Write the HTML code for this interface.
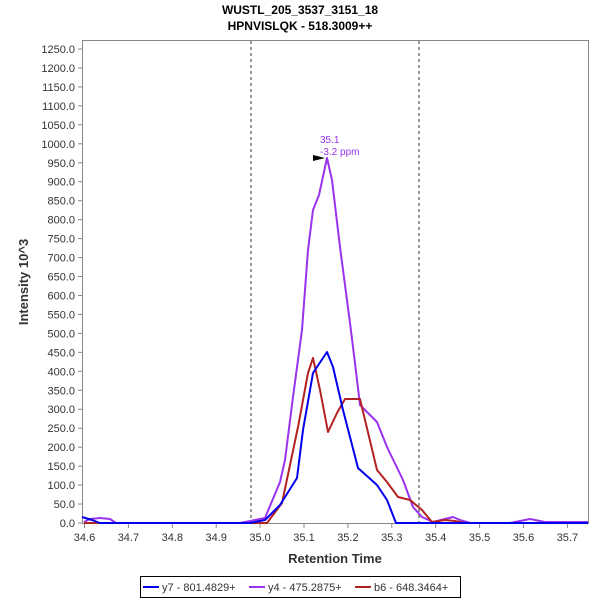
<!DOCTYPE html><html><head><style>body{margin:0;background:#fff}svg{font-family:"Liberation Sans",sans-serif}</style></head><body>
<svg width="600" height="600" xmlns="http://www.w3.org/2000/svg">
<text x="300" y="14" text-anchor="middle" font-size="12" font-weight="bold" fill="#000">WUSTL_205_3537_3151_18</text>
<text x="300" y="30" text-anchor="middle" font-size="12" font-weight="bold" fill="#000">HPNVISLQK - 518.3009++</text>
<rect x="82.5" y="40.5" width="506" height="483" fill="none" stroke="#888"/>
<g id="yt" font-size="11" fill="#333" text-anchor="end"></g>
<g id="xt" font-size="11" fill="#333" text-anchor="middle"></g>
<line x1="251" y1="41" x2="251" y2="523" stroke="#333" stroke-dasharray="3,3"/>
<line x1="419" y1="41" x2="419" y2="523" stroke="#333" stroke-dasharray="3,3"/>
<text x="28" y="282" font-size="13" font-weight="bold" fill="#333" text-anchor="middle" transform="rotate(-90 28 282)">Intensity 10^3</text>
<text x="335" y="563" font-size="13" font-weight="bold" fill="#333" text-anchor="middle">Retention Time</text>
<g fill="none" stroke-width="2" stroke-linejoin="round">
<polyline stroke="#9933ee" points="84,522 90,519 100,518 110,519 116,523 240,523 265,518 280,482 285,460 293,397 302,330 308,250 313,210 319,195 327,158 332,180 340,247 350,323 355,363 360,405 377,422 387,447 403,480 413,507 422,517 433,522 445,519 453,517 460,520 470,523 510,523 520,521 530,519 545,522 588,522"/>
<polyline stroke="#b22222" points="84,523 250,523 267,523 282,503 298,427 308,373 313,358 320,390 328,432 337,413 345,399 360,399 377,470 387,482 398,497 410,500 422,510 432,522 445,520 455,521 465,523 588,523"/>
<polyline stroke="#0000ee" points="82,517 92,520 100,523 250,523 265,520 280,505 297,478 303,430 313,373 327,352 333,367 343,410 358,468 377,485 387,500 396,523 588,523"/>
</g>
<polygon points="313,157 325,157 325,160 313,160" fill="none"/>
<polygon points="313,155 325,158 313,161" fill="#000"/>
<text x="320" y="143" font-size="10" fill="#9933ee">35.1</text>
<text x="320" y="155" font-size="10" fill="#9933ee">-3.2 ppm</text>
<rect x="140.5" y="576.5" width="320" height="21" fill="#fff" stroke="#000"/>
<line x1="143" y1="587" x2="159" y2="587" stroke="#0000ee" stroke-width="2"/>
<text x="162" y="591" font-size="11" fill="#333">y7 - 801.4829+</text>
<line x1="249" y1="587" x2="265" y2="587" stroke="#9933ee" stroke-width="2"/>
<text x="268" y="591" font-size="11" fill="#333">y4 - 475.2875+</text>
<line x1="355" y1="587" x2="371" y2="587" stroke="#b22222" stroke-width="2"/>
<text x="374" y="591" font-size="11" fill="#333">b6 - 648.3464+</text>
</svg>
<script>
var ns="http://www.w3.org/2000/svg",yt=document.getElementById("yt"),xt=document.getElementById("xt");
for(var v=0;v<=1250;v+=50){var y=523-v*0.3792;var l=document.createElementNS(ns,"line");l.setAttribute("x1",78);l.setAttribute("x2",82);l.setAttribute("y1",y);l.setAttribute("y2",y);l.setAttribute("stroke","#888");yt.appendChild(l);var t=document.createElementNS(ns,"text");t.setAttribute("x",75);t.setAttribute("y",y+4);t.textContent=v.toFixed(1);yt.appendChild(t);}
for(var i=0;i<=11;i++){var x=84.5+i*43.9;var l=document.createElementNS(ns,"line");l.setAttribute("x1",x);l.setAttribute("x2",x);l.setAttribute("y1",524);l.setAttribute("y2",528);l.setAttribute("stroke","#888");xt.appendChild(l);var t=document.createElementNS(ns,"text");t.setAttribute("x",x);t.setAttribute("y",541);t.textContent=(34.6+i*0.1).toFixed(1);xt.appendChild(t);}
</script>
</body></html>
